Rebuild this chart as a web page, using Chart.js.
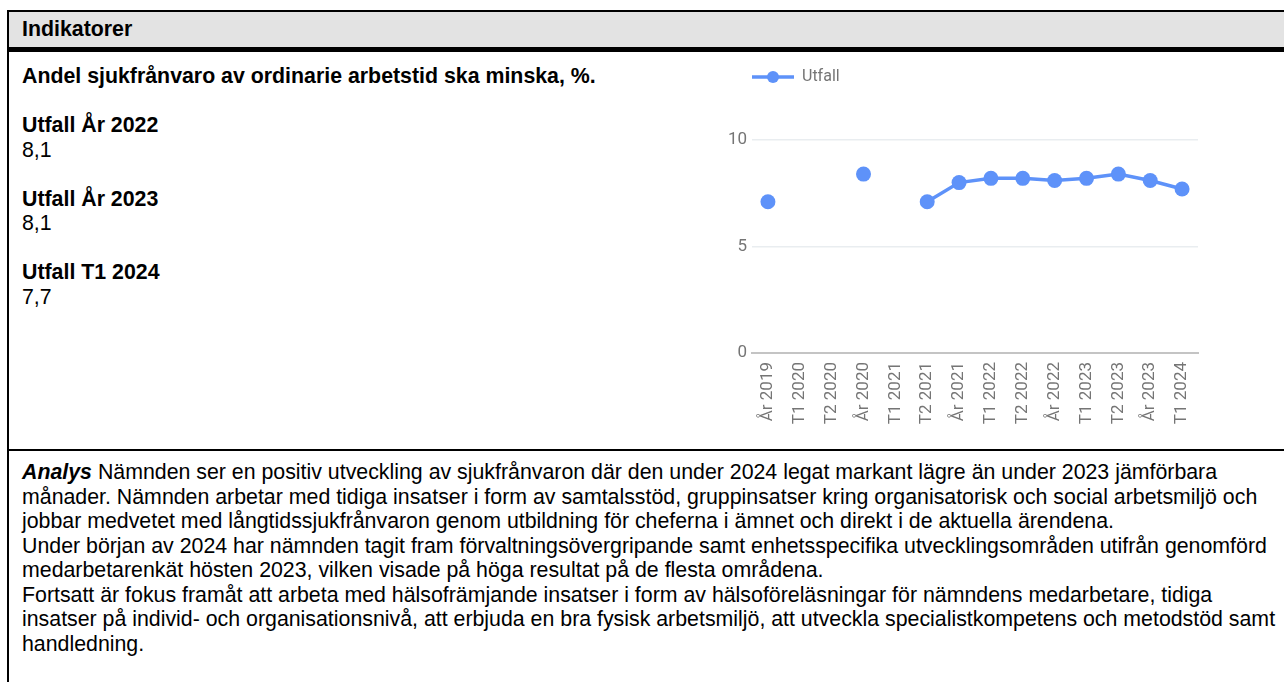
<!DOCTYPE html>
<html lang="sv">
<head>
<meta charset="utf-8">
<title>Indikatorer</title>
<script src="https://cdn.jsdelivr.net/npm/chart.js@4.4.0/dist/chart.umd.min.js"></script>
<style>
  html, body { margin: 0; padding: 0; background: #fff; overflow: hidden; }
  body { width: 1284px; height: 682px; position: relative; font-family: "Liberation Sans", Arial, sans-serif; color: #000; font-size: 21.33px; line-height: 24.5px; }
  #box { position: absolute; left: 7px; top: 10px; width: 1300px; height: 700px; border-left: 2px solid #000; border-top: 2px solid #000; }
  #head { position: absolute; left: 0; top: 0; width: 1300px; height: 40px; box-sizing: border-box; padding: 5px 0 0 13px; background: #e3e3e3; border-bottom: 5px solid #000; font-weight: bold; }
  #left { position: absolute; left: 13px; top: 52px; white-space: nowrap; }
  #chartWrap { position: absolute; left: 691px; top: 45px; width: 584px; height: 392px; }
  #analys { position: absolute; left: 0; top: 437px; width: 1300px; border-top: 2px solid #000; padding: 9px 0 0 13px; white-space: nowrap; }
</style>
</head>
<body>
<div id="box">
  <div id="head">Indikatorer</div>
  <div id="left">
    <b>Andel sjukfrånvaro av ordinarie arbetstid ska minska, %.</b><br><br>
    <b>Utfall År 2022</b><br>8,1<br><br>
    <b>Utfall År 2023</b><br>8,1<br><br>
    <b>Utfall T1 2024</b><br>7,7
  </div>
  <div id="chartWrap"><canvas id="chart"></canvas></div>
  <div id="analys">
    <b><i>Analys</i></b> Nämnden ser en positiv utveckling av sjukfrånvaron där den under 2024 legat markant lägre än under 2023 jämförbara<br>
    månader. Nämnden arbetar med tidiga insatser i form av samtalsstöd, gruppinsatser kring organisatorisk och social arbetsmiljö och<br>
    jobbar medvetet med långtidssjukfrånvaron genom utbildning för cheferna i ämnet och direkt i de aktuella ärendena.<br>
    Under början av 2024 har nämnden tagit fram förvaltningsövergripande samt enhetsspecifika utvecklingsområden utifrån genomförd<br>
    medarbetarenkät hösten 2023, vilken visade på höga resultat på de flesta områdena.<br>
    Fortsatt är fokus framåt att arbeta med hälsofrämjande insatser i form av hälsoföreläsningar för nämndens medarbetare, tidiga<br>
    insatser på individ- och organisationsnivå, att erbjuda en bra fysisk arbetsmiljö, att utveckla specialistkompetens och metodstöd samt<br>
    handledning.
  </div>
</div>

<script>
// perioder och utfall (null = saknas)
const periods = ['År 2019', 'T1 2020', 'T2 2020', 'År 2020', 'T1 2021', 'T2 2021', 'År 2021',
                 'T1 2022', 'T2 2022', 'År 2022', 'T1 2023', 'T2 2023', 'År 2023', 'T1 2024'];
const utfall = [7.1, null, null, 8.4, null, 7.1, 8.0, 8.2, 8.2, 8.1, 8.2, 8.4, 8.1, 7.7];
const yTicks = [0, 5, 10];

const blue = '#5e92f9';
const grey = '#757575';

// legend icon: line with a dot
const icon = document.createElement('canvas');
icon.width = 42;
icon.height = 14;
const ictx = icon.getContext('2d');
ictx.strokeStyle = blue;
ictx.lineWidth = 3.5;
ictx.beginPath();
ictx.moveTo(0, 7);
ictx.lineTo(42, 7);
ictx.stroke();
ictx.fillStyle = blue;
ictx.beginPath();
ictx.arc(21, 7, 6, 0, Math.PI * 2);
ictx.fill();

// legend: gap under it, and lined up with the plot
const legendPlace = {
  id: 'legendPlace',
  beforeInit(chart) {
    const fit = chart.legend.fit;
    chart.legend.fit = function () {
      fit.call(this);
      this.height = 83;
    };
  },
  afterLayout(chart) {
    chart.legend.left += 40;
    chart.legend.right += 40;
  }
};

new Chart(document.getElementById('chart'), {
  type: 'line',
  data: {
    labels: periods,
    datasets: [{
      label: 'Utfall',
      data: utfall,
      borderColor: blue,
      backgroundColor: blue,
      borderWidth: 3.5,
      pointRadius: 7.5,
      pointHoverRadius: 7.5,
      pointBorderWidth: 0,
      spanGaps: false,
      tension: 0
    }]
  },
  options: {
    responsive: true,
    maintainAspectRatio: false,
    animation: false,
    layout: { padding: { left: 0, right: 86, top: 0, bottom: 0 } },
    plugins: {
      tooltip: { enabled: false },
      legend: {
        position: 'top',
        align: 'start',
        labels: {
          usePointStyle: true,
          pointStyle: icon,
          pointStyleWidth: 42,
          padding: 12,
          color: grey,
          font: { family: 'Roboto', size: 16 }
        }
      }
    },
    scales: {
      x: {
        offset: true,
        grid: { display: false, drawTicks: false },
        border: { display: true, color: '#c4c4c4', width: 2 },
        ticks: {
          autoSkip: false,
          minRotation: 90,
          maxRotation: 90,
          padding: 9,
          color: grey,
          font: { family: 'Roboto', size: 17 }
        },
        afterFit(scale) { scale.height = 96; }
      },
      y: {
        min: 0,
        max: 10,
        afterBuildTicks(scale) { scale.ticks = yTicks.map(v => ({ value: v })); },
        grid: {
          drawTicks: false,
          color: ctx => ctx.tick && ctx.tick.value === 0 ? '#c4c4c4' : '#e9edf0',
          lineWidth: ctx => ctx.tick && ctx.tick.value === 0 ? 2 : 1.5
        },
        border: { display: false },
        ticks: {
          padding: 5,
          color: grey,
          font: { family: 'Roboto', size: 17 }
        },
        afterFit(scale) { scale.width = 52; }
      }
    }
  },
  plugins: [legendPlace]
});
</script>
</body>
</html>
